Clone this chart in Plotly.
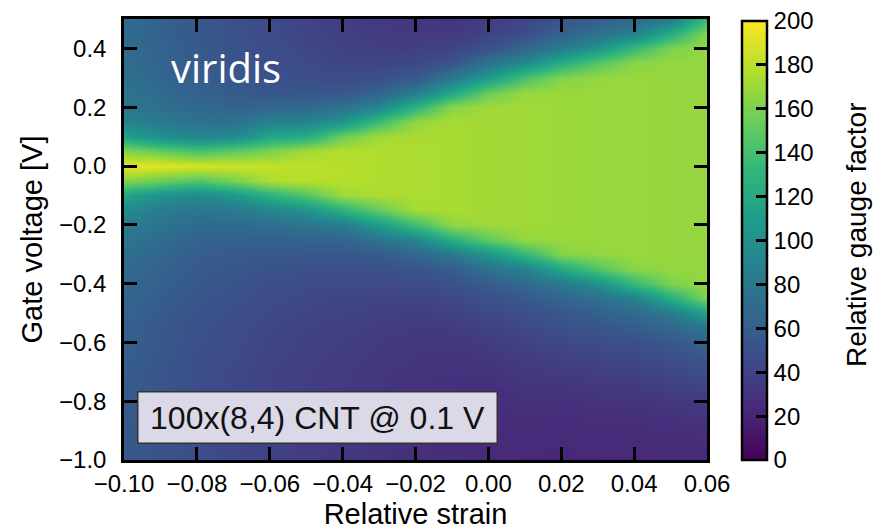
import plotly.graph_objects as go

# Relative strain of each sampled column and gate voltage of each sampled row
strain = [-0.10, -0.09, -0.08, -0.07, -0.06, -0.05, -0.04, -0.03, -0.02,
          -0.01, 0.00, 0.01, 0.02, 0.03, 0.04, 0.05, 0.06]
gate_voltage = [0.50, 0.45, 0.40, 0.35, 0.30, 0.25, 0.20, 0.15, 0.10, 0.05, 0.00,
                -0.05, -0.10, -0.15, -0.20, -0.25, -0.30, -0.35, -0.40, -0.45, -0.50,
                -0.55, -0.60, -0.65, -0.70, -0.75, -0.80, -0.85, -0.90, -0.95, -1.00]

# Relative gauge factor along gate voltage (top to bottom) for each strain
gf_m010 = [70, 70, 70, 71, 73, 76, 80, 90, 115, 162, 194, 162, 117, 96, 85, 77, 72, 69, 67, 65,
           63, 62, 61, 60, 59, 58, 57, 57, 56, 56, 55]
gf_m009 = [62, 62, 63, 64, 66, 69, 73, 82, 100, 152, 191, 154, 102, 85, 76, 70, 66, 63, 61, 59,
           57, 56, 55, 54, 53, 53, 52, 52, 51, 51, 51]
gf_m008 = [55, 55, 56, 57, 59, 62, 67, 76, 92, 142, 188, 145, 95, 78, 69, 63, 59, 57, 55, 53,
           51, 50, 49, 48, 48, 47, 47, 47, 47, 47, 47]
gf_m007 = [50, 50, 51, 52, 54, 58, 64, 74, 96, 150, 185, 158, 105, 82, 69, 62, 57, 54, 52, 50,
           48, 47, 46, 45, 44, 44, 43, 43, 43, 43, 43]
gf_m006 = [45, 46, 47, 48, 50, 54, 65, 88, 118, 160, 182, 175, 128, 92, 72, 61, 55, 51, 48, 46,
           44, 43, 42, 41, 40, 40, 39, 39, 39, 39, 39]
gf_m005 = [41, 42, 43, 45, 48, 55, 67, 90, 124, 172, 180, 178, 146, 102, 77, 63, 55, 50, 46, 44,
           42, 40, 39, 38, 37, 37, 36, 36, 36, 36, 36]
gf_m004 = [37, 38, 39, 42, 46, 55, 74, 104, 156, 177, 178, 178, 171, 128, 85, 63, 55, 49, 45, 42,
           40, 38, 37, 36, 35, 34, 34, 33, 33, 33, 33]
gf_m003 = [34, 35, 38, 42, 49, 64, 91, 138, 172, 176, 176, 176, 175, 152, 109, 76, 57, 50, 45, 41,
           38, 36, 34, 33, 32, 31, 31, 30, 30, 30, 30]
gf_m002 = [32, 34, 38, 44, 56, 85, 128, 168, 174, 175, 175, 175, 175, 173, 138, 91, 66, 52, 46, 41,
           37, 34, 32, 31, 30, 29, 28, 28, 27, 27, 27]
gf_m001 = [30, 34, 40, 52, 80, 119, 164, 173, 174, 174, 174, 174, 174, 174, 166, 124, 82, 58, 50, 44,
           39, 35, 32, 30, 29, 28, 27, 26, 26, 25, 25]
gf_p000 = [36, 41, 50, 76, 109, 154, 171, 172, 172, 172, 172, 172, 172, 172, 171, 150, 104, 74, 58, 50,
           44, 39, 35, 32, 29, 27, 26, 25, 24, 24, 24]
gf_p001 = [42, 48, 66, 95, 142, 169, 171, 171, 171, 171, 171, 171, 171, 171, 171, 167, 133, 88, 68, 56,
           49, 44, 40, 36, 33, 30, 28, 26, 25, 24, 23]
gf_p002 = [52, 62, 82, 124, 162, 169, 170, 170, 170, 170, 170, 170, 170, 170, 170, 169, 163, 119, 80, 64,
           55, 49, 44, 39, 35, 31, 28, 26, 24, 23, 23]
gf_p003 = [60, 75, 104, 147, 168, 169, 169, 169, 169, 169, 169, 169, 169, 169, 169, 169, 167, 145, 100, 74,
           61, 53, 47, 42, 37, 33, 30, 27, 25, 24, 23]
gf_p004 = [67, 88, 133, 164, 169, 169, 169, 169, 169, 169, 169, 169, 169, 169, 169, 169, 169, 164, 133, 88,
           68, 58, 50, 44, 39, 34, 30, 27, 25, 24, 23]
gf_p005 = [82, 124, 160, 167, 168, 168, 168, 168, 168, 168, 168, 168, 168, 168, 168, 168, 168, 167, 160, 124,
           82, 66, 56, 49, 43, 38, 33, 29, 26, 25, 24]
gf_p006 = [135, 163, 168, 168, 168, 168, 168, 168, 168, 168, 168, 168, 168, 168, 168, 168, 168, 168, 168, 162,
           114, 78, 64, 55, 47, 41, 35, 31, 27, 25, 24]

strain_ticks = [-0.10, -0.08, -0.06, -0.04, -0.02, 0.00, 0.02, 0.04, 0.06]
voltage_ticks = [-1.0, -0.8, -0.6, -0.4, -0.2, 0.0, 0.2, 0.4]
gf_ticks = [0, 20, 40, 60, 80, 100, 120, 140, 160, 180, 200]

columns = [gf_m010, gf_m009, gf_m008, gf_m007, gf_m006, gf_m005, gf_m004, gf_m003, gf_m002,
           gf_m001, gf_p000, gf_p001, gf_p002, gf_p003, gf_p004, gf_p005, gf_p006]
z = [list(row) for row in zip(*columns)]

FONT = "Liberation Sans, Arial, Helvetica, sans-serif"

fig = go.Figure(
    go.Heatmap(
        x=strain,
        y=gate_voltage,
        z=z,
        zmin=0,
        zmax=200,
        zsmooth="best",
        colorscale="Viridis",
        colorbar=dict(
            x=1.06, xanchor="left", xpad=0,
            y=0.0, yanchor="bottom", ypad=0,
            len=0.995, lenmode="fraction",
            thickness=25, thicknessmode="pixels",
            outlinewidth=2.5, outlinecolor="black",
            ticks="inside", ticklen=12, tickwidth=2.5, tickcolor="black",
            tickvals=gf_ticks,
            tickfont=dict(family=FONT, size=24, color="black"),
        ),
        hoverinfo="skip",
    )
)

axis_common = dict(
    ticks="inside", ticklen=13, tickwidth=2.5, tickcolor="black",
    showline=True, linecolor="black", linewidth=2.5, mirror="ticks",
    showgrid=False, zeroline=False,
    tickfont=dict(family=FONT, size=24, color="black"),
)

fig.update_layout(
    width=875, height=530,
    margin=dict(l=124, r=168, t=19, b=70, autoexpand=False),
    paper_bgcolor="white", plot_bgcolor="white",
    font=dict(family=FONT, color="black"),
    xaxis=dict(range=[-0.10, 0.06], tickvals=strain_ticks, tickformat=".2f",
               ticklabelstandoff=0,
               title=dict(text="Relative strain", font=dict(family=FONT, size=29), standoff=12),
               **axis_common),
    yaxis=dict(range=[-1.0, 0.5], tickvals=voltage_ticks, tickformat=".1f",
               ticklabelstandoff=10,
               title=dict(text="Gate voltage [V]", font=dict(family=FONT, size=29), standoff=8),
               **axis_common),
    annotations=[
        dict(text="Relative gauge factor", xref="paper", yref="paper",
             x=(856 - 124) / 583, y=0.51, xanchor="center", yanchor="middle",
             textangle=-90, showarrow=False,
             font=dict(family=FONT, size=28, color="black")),
        dict(text="viridis", xref="paper", yref="paper", x=0.077, y=0.890,
             xanchor="left", yanchor="middle", showarrow=False,
             font=dict(family="Open Sans, Noto Sans, sans-serif", size=40, color="white")),
        dict(text="100x(8,4) CNT @ 0.1 V", xref="paper", yref="paper",
             x=0.0223, y=0.0363, xanchor="left", yanchor="bottom", showarrow=False,
             width=354, height=46, align="center",
             bgcolor="#dbd9e8", bordercolor="#333333", borderwidth=1.5, borderpad=2,
             font=dict(family=FONT, size=32, color="#111111")),
    ],
)

fig.write_html("out.html")
